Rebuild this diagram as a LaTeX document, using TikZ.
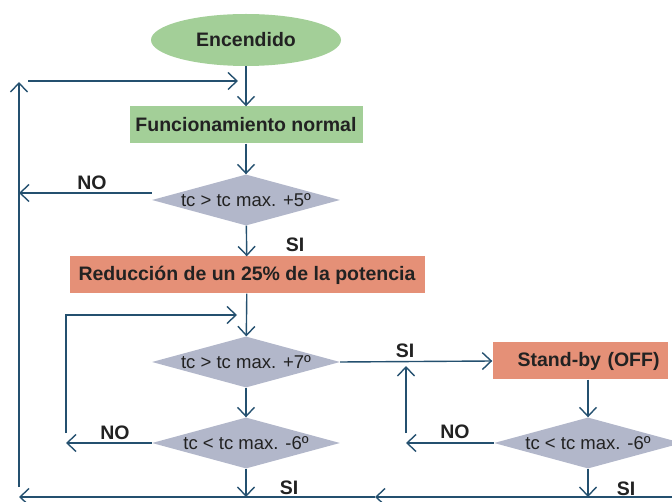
\documentclass[tikz,border=0pt]{standalone}
\usepackage{fontspec}
\setmainfont{Liberation Sans}
\usetikzlibrary{shapes.geometric,arrows.meta}
\definecolor{verde}{HTML}{A3CF98}
\definecolor{salmon}{HTML}{E59077}
\definecolor{gris}{HTML}{B2B7CA}
\definecolor{azul}{HTML}{24506F}
\definecolor{texto}{HTML}{222222}
\tikzset{
  inicio/.style={ellipse, fill=verde, minimum width=190pt, minimum height=52pt,
    text=texto, font=\bfseries\fontsize{19.5}{22}\selectfont},
  verdebox/.style={rectangle, fill=verde, minimum height=37pt, inner sep=2pt,
    text=texto, font=\bfseries\fontsize{19.5}{22}\selectfont},
  rojobox/.style={rectangle, fill=salmon, minimum height=37pt, inner sep=2pt,
    text=texto, font=\bfseries\fontsize{19.5}{22}\selectfont},
  decision/.style={diamond, fill=gris, aspect=3.7, inner xsep=-8pt, inner ysep=-3pt,
    minimum width=188pt, minimum height=51pt,
    text=texto, font=\fontsize{18.5}{21}\selectfont},
  etiqueta/.style={text=texto, font=\bfseries\fontsize{19.5}{22}\selectfont},
  flecha/.style={draw=azul, line width=1.4pt, -{Straight Barb[length=9pt,width=17pt]}}
}
\begin{document}
\begin{tikzpicture}[x=1pt,y=-1pt]
  \useasboundingbox (0,0) rectangle (672,502);
  % bloques
  \node[inicio] (encendido) at (246,40) {Encendido};
  \node[verdebox, minimum width=233pt] (normal) at (246,125) {Funcionamiento normal};
  \node[decision] (dec1) at (246,200) {tc > tc max. +5º};
  \node[rojobox, minimum width=355pt] (reduccion) at (247,275) {Reducción de un 25\% de la potencia};
  \node[decision] (dec2) at (246,362) {tc > tc max. +7º};
  \node[decision] (dec3) at (246,443) {tc < tc max. -6º};
  \node[rojobox, text width=159pt, inner xsep=8pt, align=right] (standby) at (580,361) {Stand-by (OFF)};
  \node[decision] (dec4) at (588,443) {tc < tc max. -6º};
  % puntos de paso
  \coordinate (izqabajo) at (19,487);
  \coordinate (izqarriba) at (19,82);
  \coordinate (entrada) at (28,81);
  \coordinate (bucle) at (66,433);
  \coordinate (vuelta) at (246,315);
  \coordinate (subida) at (406,433);
  \coordinate (fondo) at (672,497);
  \coordinate (medio) at (375,497);
  % flechas
  \draw[flecha] (encendido.south) -- (normal.north);
  \draw[flecha] (izqabajo) -- (izqarriba);
  \draw[flecha, shorten >=8pt] (entrada) -- (entrada -| normal);
  \draw[flecha] (normal) -- (dec1);
  \draw[flecha] ([yshift=7pt]dec1.west) -- ([yshift=7pt]dec1.west -| izqabajo);
  \draw[flecha] (dec1) -- (reduccion);
  \draw[flecha] (reduccion) -- (dec2);
  \draw[flecha] (dec2) -- (dec3);
  \draw[flecha] (dec3.west) -- (dec3.west -| bucle);
  \draw[flecha, shorten >=9pt] (bucle) |- (vuelta);
  \draw[flecha] (dec2.east) -- (standby.west);
  \draw[flecha] (standby.south -| dec4) -- (dec4.north);
  \draw[flecha] (dec4.west) -- (dec4.west -| subida);
  \draw[flecha, shorten >=4pt] (subida) -- (subida |- dec2.east);
  \draw[flecha] (dec3.south) -- (dec3.south |- fondo);
  \draw[flecha] (dec4.south) -- (dec4.south |- fondo);
  \draw[flecha] (fondo) -- (medio);
  \draw[flecha] (medio) -- (fondo -| izqabajo);
  % etiquetas
  \node[etiqueta] (no1) at (92,183) {NO};
  \node[etiqueta] (si1) at (295,245) {SI};
  \node[etiqueta] (si2) at (405,351) {SI};
  \node[etiqueta] (no2) at (115,433) {NO};
  \node[etiqueta] (no3) at (455,432) {NO};
  \node[etiqueta] (si3) at (289,488) {SI};
  \node[etiqueta] (si4) at (626,489) {SI};
\end{tikzpicture}
\end{document}
